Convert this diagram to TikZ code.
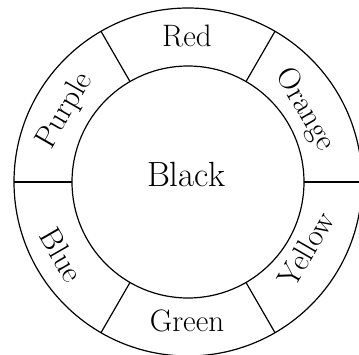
\documentclass[tikz,border=0pt]{standalone}
\usepackage{fontspec}
\begin{document}
\begin{tikzpicture}[x=1pt,y=-1pt,
  ringline/.style={line width=1.2pt},
  ringlabel/.style={font=\fontsize{31}{34}\selectfont, inner sep=0pt, anchor=center},
  centrelabel/.style={font=\fontsize{35}{38}\selectfont, inner sep=0pt, anchor=base}]
\useasboundingbox (0,0) rectangle (359,354);
\clip (0,0) rectangle (359,354);
\coordinate (c) at (188,182);
\draw[ringline] (c) circle[radius=174];
\draw[ringline] (c) circle[radius=116];
\foreach \a in {0,60,...,300}{
  \draw[ringline] (c) ++(\a:116) coordinate (i\a) -- ++(\a:58) coordinate (o\a);
}
\node[centrelabel] (black) at (186,186) {Black};
\node[ringlabel] (red) at (187,36) {Red};
\node[ringlabel, rotate=-60] (orange) at (305,110) {Orange};
\node[ringlabel, rotate=60] (yellow) at (306,249) {Yellow};
\node[ringlabel] (green) at (187,321) {Green};
\node[ringlabel, rotate=-60] (blue) at (62,255) {Blue};
\node[ringlabel, rotate=60] (purple) at (65,111) {Purple};
\end{tikzpicture}
\end{document}
